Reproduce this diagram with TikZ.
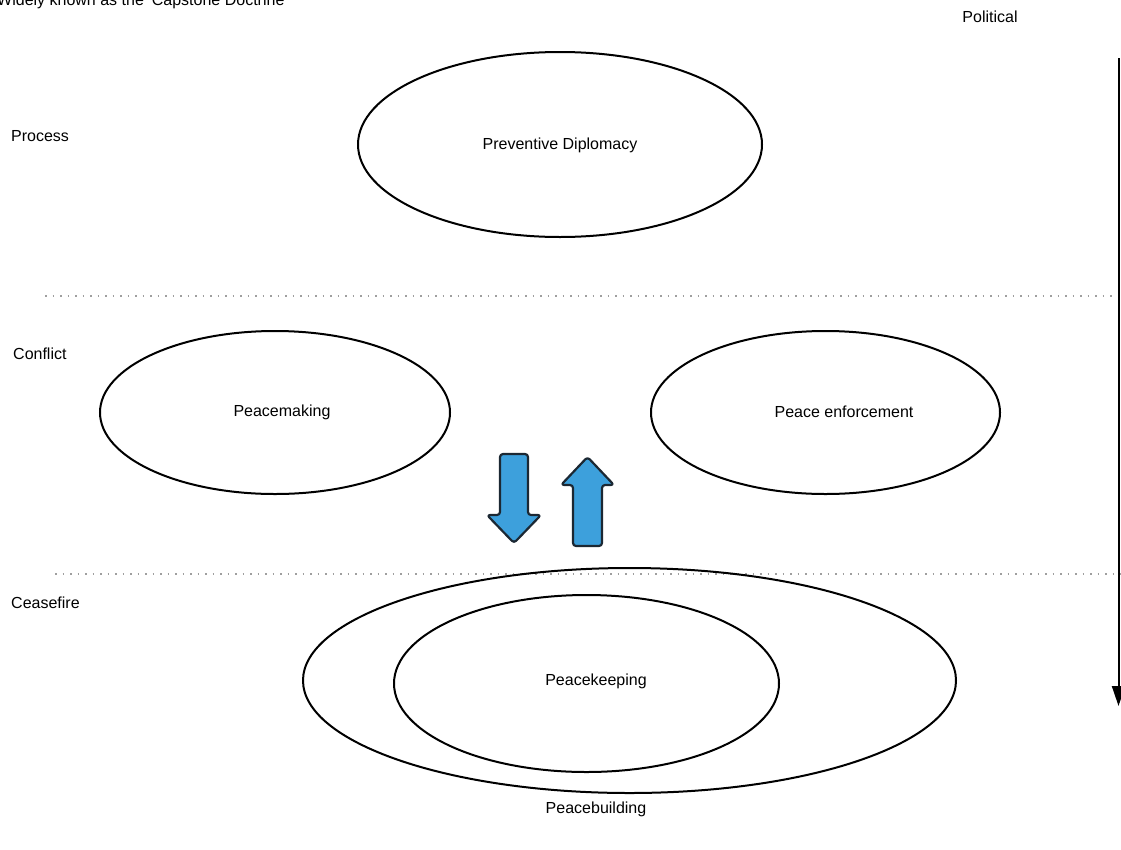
\documentclass[tikz,border=0pt]{standalone}
\usepackage{fontspec}
\setmainfont{Liberation Sans}
\usetikzlibrary{shapes.geometric,arrows.meta}
\definecolor{arrowblue}{HTML}{3DA0DC}
\definecolor{arrowedge}{HTML}{1C2833}
\tikzset{
  oval/.style={ellipse, draw=black, line width=2pt, inner sep=0pt},
  lbl/.style={inner sep=0pt, font=\fontsize{16}{19}\selectfont},
  sep/.style={draw=gray!75, line width=1.8pt, dash pattern=on 1.6pt off 5.9pt},
  blockarrow/.style={fill=arrowblue, draw=arrowedge, line width=2.2pt, rounded corners=3pt, line join=round},
}
\begin{document}
\begin{tikzpicture}[x=1pt,y=-1pt]
\useasboundingbox (0,0) rectangle (1121,849);
% title, cut at top as in the reference
\node[lbl, anchor=base west] (title) at (-3,5) {Widely known as the 'Capstone Doctrine};
\node[lbl] (political) at (990,17) {Political};
% side labels
\node[lbl, anchor=west] (process) at (11,136) {Process};
\node[lbl, anchor=west] (conflict) at (13,354) {Conflict};
\node[lbl, anchor=west] (ceasefire) at (11,603) {Ceasefire};
% separators
\coordinate (s1a) at (45,296);
\coordinate (s1b) at (1113,296);
\coordinate (s2a) at (55,574);
\coordinate (s2b) at (1121,574);
\draw[sep] (s1a) -- (s1b);
\draw[sep] (s2a) -- (s2b);
% political axis
\coordinate (axtop) at (1118.5,58);
\coordinate (axbot) at (1118.5,706);
\draw[line width=2pt, -{Triangle[length=20pt,width=13pt]}] (axtop) -- (axbot);
% ellipses
\node[oval, minimum width=404pt, minimum height=185pt] (pd) at (560,144.5) {};
\node[lbl] (pdt) at (560,145) {Preventive Diplomacy};
\node[oval, minimum width=350pt, minimum height=163pt] (pm) at (275,412.5) {};
\node[lbl] (pmt) at (282,412) {Peacemaking};
\node[oval, minimum width=349pt, minimum height=163pt] (pe) at (825.5,412.5) {};
\node[lbl] (pet) at (844,412) {Peace enforcement};
\node[oval, minimum width=653pt, minimum height=225pt] (pb) at (629.5,680.5) {};
\node[oval, minimum width=385pt, minimum height=177pt] (pk) at (586.5,683.5) {};
\node[lbl] (pkt) at (596,681) {Peacekeeping};
\node[lbl] (pbt) at (596,809) {Peacebuilding};
% block arrows
\draw[blockarrow] (500,454) -- (528,454) -- (528,515) -- (541,515) -- (514,543) -- (487,515) -- (500,515) -- cycle;
\draw[blockarrow] (573,546) -- (602,546) -- (602,485) -- (614,485) -- (587.5,457) -- (561,485) -- (573,485) -- cycle;
\end{tikzpicture}
\end{document}
